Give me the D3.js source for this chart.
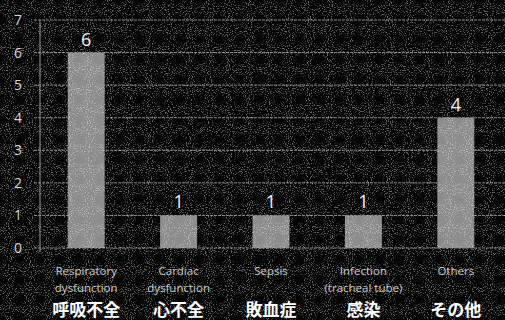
<!DOCTYPE html>
<html>
<head>
<meta charset="utf-8">
<script src="https://cdn.jsdelivr.net/npm/d3@7"></script>
<style>
  html, body { margin: 0; padding: 0; background: #050505; }
  svg { display: block; }
</style>
</head>
<body>
<div id="chart"></div>
<script>
var categoriesEn = [["Respiratory", "dysfunction"], ["Cardiac", "dysfunction"], ["Sepsis"], ["Infection", "(tracheal tube)"], ["Others"]];
var categoriesJa = ["呼吸不全", "心不全", "敗血症", "感染", "その他"];
var counts = [6, 1, 1, 1, 4];
var yTicks = [0, 1, 2, 3, 4, 5, 6, 7];

var width = 505, height = 320;

var chartSvg = d3.select('#chart')
    .append('svg')
    .attr('width', width)
    .attr('height', height)

// grainy scan look
var grain = chartSvg.append('defs')
    .append('filter').attr('id', 'grain')
    .attr('x', 0).attr('y', 0).attr('width', 1).attr('height', 1)
grain.append('feTurbulence')
    .attr('type', 'fractalNoise')
    .attr('baseFrequency', 0.95)
    .attr('numOctaves', 1)
    .attr('seed', 7)
    .attr('result', 'noise')
grain.append('feColorMatrix')
    .attr('in', 'noise')
    .attr('type', 'matrix')
    .attr('values', '0 0 0 0 1  0 0 0 0 1  0 0 0 0 1  0 0 0 7 -3.9')

chartSvg.append('rect')
    .attr('width', width).attr('height', height)
    .attr('fill', '#050505')

var x = d3.scaleBand()
    .domain(d3.range(counts.length))
    .range([40, 502])
    .paddingInner(0.6)
    .paddingOuter(0.3)

var y = d3.scaleLinear()
    .domain([0, 7])
    .range([248, 20])

// gridlines
chartSvg.append('g')
    .selectAll('line')
    .data(yTicks)
    .enter()
    .append('line')
    .attr('x1', 34)
    .attr('x2', width)
    .attr('y1', function(d) { return y(d) })
    .attr('y2', function(d) { return y(d) })
    .attr('stroke', '#8a8a8a')
    .attr('stroke-width', 1)
    .attr('stroke-dasharray', '3,1')

// y axis line
chartSvg.append('line')
    .attr('x1', 40).attr('x2', 40)
    .attr('y1', y(7)).attr('y2', y(0) + 4)
    .attr('stroke', '#9a9a9a')

// y tick labels
chartSvg.append('g')
    .selectAll('text')
    .data(yTicks)
    .enter()
    .append('text')
    .attr('x', 18)
    .attr('y', function(d) { return y(d) })
    .attr('dy', '0.36em')
    .attr('text-anchor', 'middle')
    .attr('fill', '#d8d8d8')
    .style('font-family', 'Open Sans, sans-serif')
    .style('font-size', '14px')
    .text(function(d) { return d })

// bars
chartSvg.append('g')
    .selectAll('rect')
    .data(counts)
    .enter()
    .append('rect')
    .attr('x', function(d, i) { return x(i) })
    .attr('y', function(d) { return y(d) })
    .attr('width', x.bandwidth())
    .attr('height', function(d) { return y(0) - y(d) })
    .attr('fill', '#8c8c8c')

// value labels
chartSvg.append('g')
    .selectAll('text')
    .data(counts)
    .enter()
    .append('text')
    .attr('x', function(d, i) { return x(i) + x.bandwidth() / 2 })
    .attr('y', function(d) { return y(d) - 7 })
    .attr('text-anchor', 'middle')
    .attr('fill', '#f2f2f2')
    .style('font-family', 'Open Sans, sans-serif')
    .style('font-size', '18px')
    .text(function(d) { return d })

// english category labels
var enG = chartSvg.append('g')
    .selectAll('text')
    .data(categoriesEn)
    .enter()
    .append('text')
    .attr('x', function(d, i) { return x(i) + x.bandwidth() / 2 })
    .attr('y', 275)
    .attr('text-anchor', 'middle')
    .attr('fill', '#c8c8c8')
    .style('font-family', 'Open Sans, sans-serif')
    .style('font-size', '11.5px')

enG.selectAll('tspan')
    .data(function(d) { return d })
    .enter()
    .append('tspan')
    .attr('x', function() { return d3.select(this.parentNode).attr('x') })
    .attr('dy', function(d, i) { return i === 0 ? 0 : 17 })
    .text(function(d) { return d })

// japanese labels
chartSvg.append('g')
    .selectAll('text')
    .data(categoriesJa)
    .enter()
    .append('text')
    .attr('x', function(d, i) { return x(i) + x.bandwidth() / 2 })
    .attr('y', 316)
    .attr('text-anchor', 'middle')
    .attr('fill', '#ffffff')
    .style('font-family', 'Noto Sans CJK JP, sans-serif')
    .style('font-weight', 'bold')
    .style('font-size', '17px')
    .text(function(d) { return d })

// grain overlay
chartSvg.append('rect')
    .attr('width', width).attr('height', height)
    .attr('filter', 'url(#grain)')
    .attr('opacity', 0.4)
</script>
</body>
</html>
